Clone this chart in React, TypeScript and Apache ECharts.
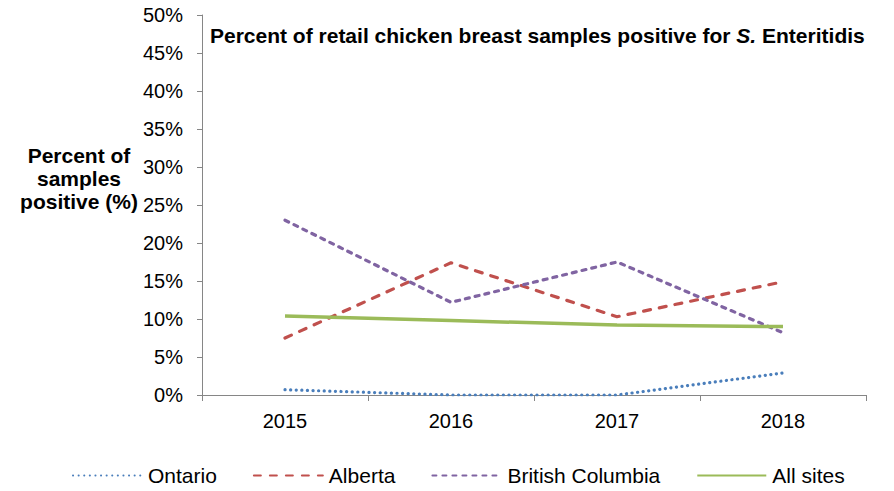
import React, { useEffect, useRef } from "react";
import * as echarts from "echarts";

const years = ["2015", "2016", "2017", "2018"];
const ontario = [0.7, 0.0, 0.0, 2.9];
const alberta = [7.5, 17.4, 10.3, 14.9];
const britishColumbia = [23.0, 12.2, 17.5, 8.2];
const allSites = [10.4, 9.8, 9.2, 9.0];
const yTicks = [0, 5, 10, 15, 20, 25, 30, 35, 40, 45, 50];

const FONT = "'Liberation Sans', Arial, sans-serif";

export default function App() {
  const ref = useRef<HTMLDivElement>(null);
  useEffect(() => {
    if (!ref.current) return;
    const chart = echarts.init(ref.current, null, { renderer: "svg" });
    const axisColor = "#868686";
    chart.setOption({
      animation: false,
      textStyle: { fontFamily: FONT },
      grid: { left: 202, right: 28, top: 15, bottom: 96, containLabel: false },
      graphic: [
        {
          type: "text",
          x: 210,
          y: 35,
          style: {
            text: "{b|Percent of retail chicken breast samples positive for }{i|S.}{b| Enteritidis}",
            verticalAlign: "middle",
            rich: {
              b: { fontFamily: FONT, fontWeight: "bold", fontSize: 21, fill: "#000" },
              i: { fontFamily: FONT, fontWeight: "bold", fontStyle: "italic", fontSize: 21, fill: "#000" },
            },
          },
        },
        {
          type: "text",
          x: 79,
          y: 178,
          style: {
            text: "Percent of\nsamples\npositive (%)",
            fontFamily: FONT,
            fontWeight: "bold",
            fontSize: 21,
            lineHeight: 23,
            align: "center",
            verticalAlign: "middle",
            fill: "#000",
          },
        },
      ],
      legend: {
        left: 67,
        top: 460,
        itemWidth: 69,
        itemHeight: 12,
        itemGap: 36,
        itemStyle: { opacity: 0 },
        textStyle: { fontFamily: FONT, fontSize: 21, color: "#000", padding: [0, 0, 0, 1] },
        data: ["Ontario", "Alberta", "British Columbia", "All sites"],
      },
      xAxis: {
        type: "category",
        data: years,
        boundaryGap: true,
        axisLine: { lineStyle: { color: axisColor, width: 1 } },
        axisTick: { show: true, length: 6, lineStyle: { color: axisColor } },
        axisLabel: { fontFamily: FONT, fontSize: 20, color: "#000", margin: 16 },
      },
      yAxis: {
        type: "value",
        min: 0,
        max: 50,
        interval: 5,
        axisLine: { show: true, lineStyle: { color: axisColor, width: 1 } },
        axisTick: { show: true, length: 5, lineStyle: { color: axisColor } },
        splitLine: { show: false },
        axisLabel: {
          fontFamily: FONT,
          fontSize: 20,
          color: "#000",
          margin: 19,
          formatter: (v: number) => (yTicks.includes(v) ? v + "%" : ""),
        },
      },
      series: [
        {
          name: "Ontario",
          type: "line",
          data: ontario,
          symbol: "none",
          itemStyle: { color: "#4A7EBB" },
          lineStyle: { color: "#4A7EBB", width: 3.2, type: [0.1, 5.5], cap: "round" },
        },
        {
          name: "Alberta",
          type: "line",
          data: alberta,
          symbol: "none",
          itemStyle: { color: "#C0504D" },
          lineStyle: { color: "#C0504D", width: 3.2, type: [7, 9], cap: "round" },
        },
        {
          name: "British Columbia",
          type: "line",
          data: britishColumbia,
          symbol: "none",
          itemStyle: { color: "#8064A2" },
          lineStyle: { color: "#8064A2", width: 3.2, type: [4, 6], cap: "round" },
        },
        {
          name: "All sites",
          type: "line",
          data: allSites,
          symbol: "none",
          itemStyle: { color: "#9BBB59" },
          lineStyle: { color: "#9BBB59", width: 3.5, type: "solid" },
        },
      ],
    });
    return () => chart.dispose();
  }, []);
  return <div ref={ref} style={{ width: 894, height: 491, position: "absolute", left: 0, top: 0 }} />;
}
